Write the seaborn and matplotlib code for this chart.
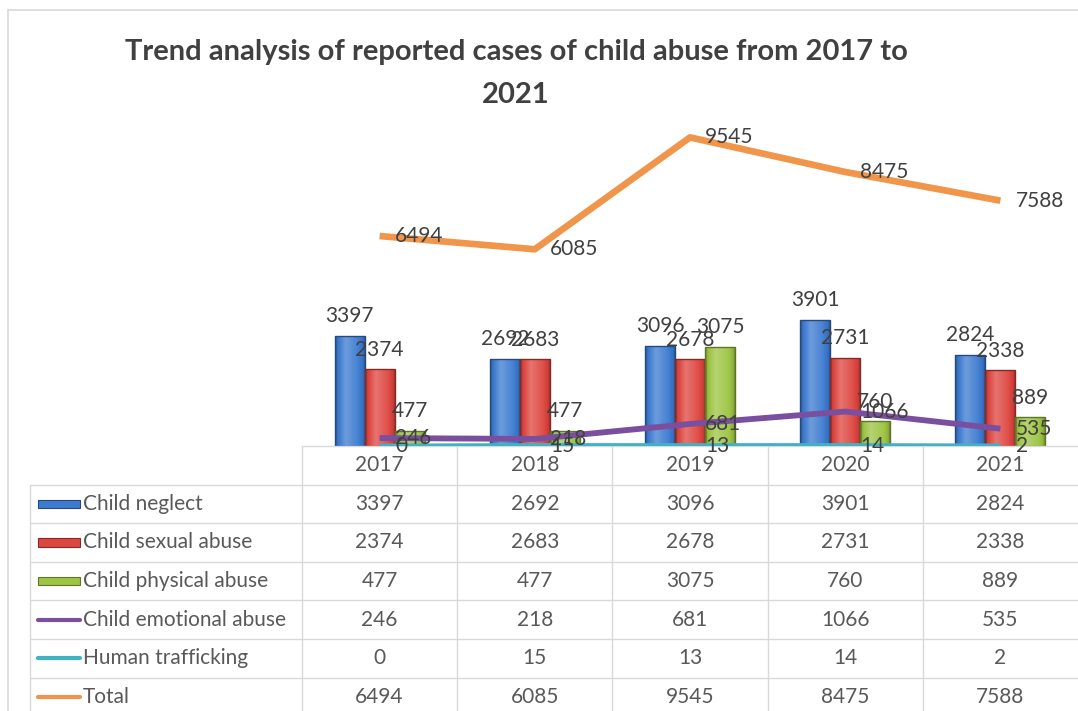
import numpy as np
import pandas as pd
import matplotlib
matplotlib.use("Agg")
import matplotlib.pyplot as plt
import seaborn as sns
from matplotlib.colors import to_rgb
from matplotlib.lines import Line2D

# ---- data -------------------------------------------------------------
years = ["2017", "2018", "2019", "2020", "2021"]
neglect = [3397, 2692, 3096, 3901, 2824]
sexual = [2374, 2683, 2678, 2731, 2338]
physical = [477, 477, 3075, 760, 889]
emotional = [246, 218, 681, 1066, 535]
trafficking = [0, 15, 13, 14, 2]
total = [6494, 6085, 9545, 8475, 7588]

bar_names = ["Child neglect", "Child sexual abuse", "Child physical abuse"]
line_names = ["Child emotional abuse", "Human trafficking", "Total"]
title_lines = ["Trend analysis of reported cases of child abuse from 2017 to", "2021"]

# ---- style ------------------------------------------------------------
bar_colors = ["#3D7BD0", "#DE4640", "#9DC443"]
line_colors = ["#7A4FA0", "#3FB3C3", "#F0954A"]
line_widths = [4.2, 3.5, 4.8]
label_color = "#404040"
table_color = "#595959"
grid_color = "#D9D9D9"

sns.set_theme(style="white")
plt.rcParams["font.family"] = ["Lato", "DejaVu Sans"]

W, H = 1078, 711
fig = plt.figure(figsize=(W / 100, H / 100), dpi=100)
fig.patch.set_facecolor("white")


def fx(px):
    return px / W


def fy(py):
    return 1 - py / H


base_px, top_px, left_px = 446, 58, 302
ax = fig.add_axes([fx(left_px), fy(base_px), 1 - fx(left_px), fy(top_px) - fy(base_px)])
ax.set_facecolor("none")

# ---- clustered bars -------------------------------------------------------
bars = pd.DataFrame({
    "year": years * 3,
    "value": neglect + sexual + physical,
    "series": np.repeat(bar_names, len(years)),
})
sns.barplot(data=bars, x="year", y="value", hue="series", hue_order=bar_names,
            palette=bar_colors, saturation=1, width=0.58, gap=0,
            legend=False, ax=ax)


def shade(c, f):
    c = np.array(to_rgb(c))
    return np.clip(c * f, 0, 1)


def tint(c, f):
    c = np.array(to_rgb(c))
    return c + (1 - c) * f


t = np.linspace(0, 1, 64)
for cont, col in zip(ax.containers, bar_colors):
    # bevelled fill: dark at the sides, lighter toward the middle
    prof = np.interp(t, [0, 0.08, 0.35, 0.75, 0.92, 1], [-0.35, -0.05, 0.25, 0.05, -0.1, -0.4])
    grad = np.array([tint(col, p) if p > 0 else shade(col, 1 + p) for p in prof])[None, :, :]
    for p in cont.patches:
        x0, w, h = p.get_x(), p.get_width(), p.get_height()
        im = ax.imshow(grad, extent=[x0, x0 + w, 0, h], aspect="auto",
                       interpolation="bilinear", zorder=2)
        im.set_clip_path(p)
        p.set_facecolor("none")
        p.set_edgecolor(shade(col, 0.6))
        p.set_linewidth(1.0)
        p.set_zorder(2.5)
    ax.bar_label(cont, padding=7, fontsize=15, color=label_color, zorder=5)

# ---- line series ----------------------------------------------------------
xpos = np.arange(len(years))
for vals, col, lw in zip([emotional, trafficking, total], line_colors, line_widths):
    sns.lineplot(x=xpos, y=vals, color=col, linewidth=lw, ax=ax, zorder=3,
                 solid_joinstyle="round", solid_capstyle="butt")
    for xi, v in zip(xpos, vals):
        ax.annotate(f"{v}", (xi, v), xytext=(11, 0), textcoords="offset points",
                    ha="left", va="center", fontsize=15, color=label_color,
                    annotation_clip=False, zorder=5)

ax.set_xlim(-0.5, len(years) - 0.5)
ax.set_ylim(0, 12000)
ax.set_xticks([])
ax.set_yticks([])
ax.set_xlabel("")
ax.set_ylabel("")
for side in ["top", "left", "right"]:
    ax.spines[side].set_visible(False)
ax.spines["bottom"].set_color(grid_color)
ax.spines["bottom"].set_linewidth(1.0)

# ---- data table ----------------------------------------------------------
col_px = (W - left_px) / len(years)
row_px = 38.6
tax = fig.add_axes([0, 0, 1, fy(base_px)])
tax.set_facecolor("none")
x_left = -0.5 - left_px / col_px
tax.set_xlim(x_left, len(years) - 0.5)
tax.set_ylim((H - base_px) / row_px, 0)
tax.axis("off")

label_x0 = -0.5 - (left_px - 30) / col_px
n_rows = 6
bottom = (H - base_px) / row_px
for r in range(1, n_rows + 1):
    tax.plot([label_x0, len(years) - 0.5], [r, r], color=grid_color, lw=1.0)
tax.plot([label_x0, label_x0], [1, bottom], color=grid_color, lw=1.0)
for k in range(len(years)):
    tax.plot([k - 0.5, k - 0.5], [0, bottom], color=grid_color, lw=1.0)

for k, yr in enumerate(years):
    tax.text(k, 0.5, yr, ha="center", va="center", fontsize=15, color=table_color)

key_a = -0.5 - (left_px - 38) / col_px
key_b = -0.5 - (left_px - 80) / col_px
text_x = -0.5 - (left_px - 83) / col_px
rows = list(zip(bar_names, [neglect, sexual, physical], bar_colors, ["bar"] * 3)) + \
       list(zip(line_names, [emotional, trafficking, total], line_colors, ["line"] * 3))
for r, (name, vals, col, kind) in enumerate(rows, start=1):
    yc = r + 0.5
    if kind == "bar":
        tax.add_patch(plt.Rectangle((key_a, yc - 0.11), key_b - key_a, 0.22,
                                    facecolor=col, edgecolor=shade(col, 0.6), lw=0.8))
    else:
        tax.plot([key_a, key_b], [yc, yc], color=col, lw=3.0)
    tax.text(text_x, yc, name, ha="left", va="center", fontsize=15, color=table_color)
    for k, v in enumerate(vals):
        tax.text(k, yc, f"{v}", ha="center", va="center", fontsize=15, color=table_color)

# ---- chart frame and title ------------------------------------------------
fig.add_artist(Line2D([fx(8), fx(8)], [fy(10), 0], color=grid_color, lw=1.2))
fig.add_artist(Line2D([fx(8), 1], [fy(10), fy(10)], color=grid_color, lw=1.2))

fig.text(fx(516), fy(52), title_lines[0], ha="center", va="center",
         fontsize=21, fontweight="bold", color=label_color)
fig.text(fx(516), fy(95), title_lines[1], ha="center", va="center",
         fontsize=21, fontweight="bold", color=label_color)

fig.savefig("out.png", dpi=100)
